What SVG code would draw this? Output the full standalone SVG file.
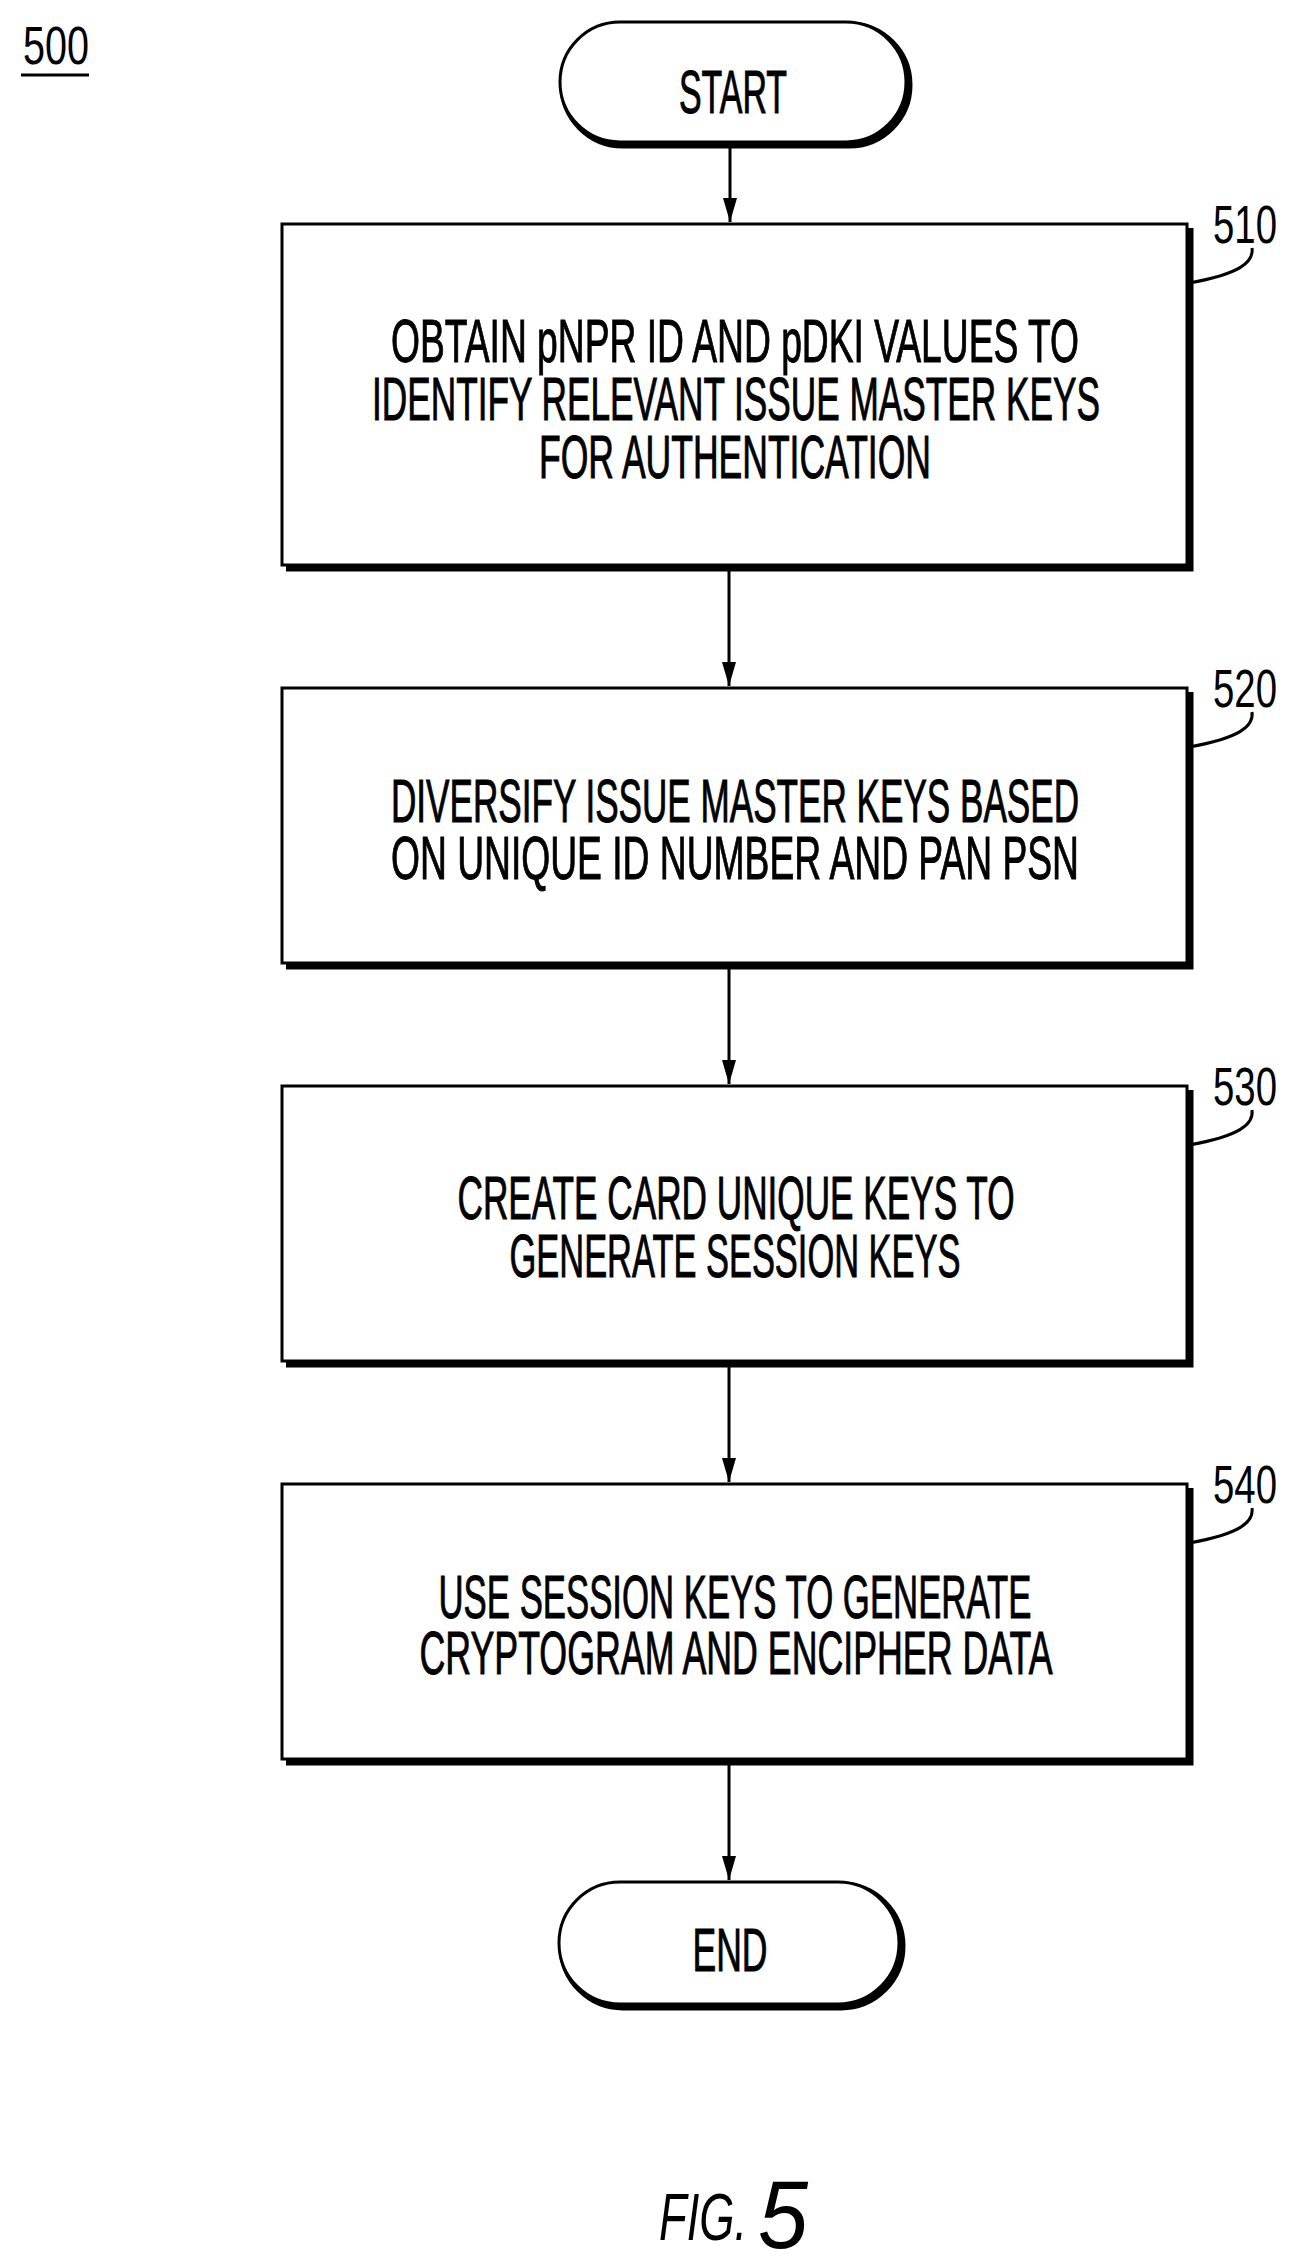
<svg xmlns="http://www.w3.org/2000/svg" width="1293" height="2262" viewBox="0 0 1293 2262">
<style>
text{font-family:"Liberation Sans",Arial,sans-serif;fill:#000}
.t{font-size:62px;text-anchor:middle;stroke:#000;stroke-width:1}
.lb{font-size:54px;text-anchor:middle}
.box{fill:#fff;stroke:#000;stroke-width:3}
.sh{fill:none;stroke:#000;stroke-width:7}
.ln{fill:none;stroke:#000;stroke-width:3}
</style>
<defs>
<marker id="a" markerWidth="24" markerHeight="14" refX="24" refY="7" orient="auto" markerUnits="userSpaceOnUse"><path d="M0,0 L24,7 L0,14 Z" fill="#000"/></marker></defs>
<g id="fig-label"><text x="56" y="64" class="lb" textLength="66" lengthAdjust="spacingAndGlyphs">500</text><line x1="21" y1="75" x2="89" y2="75" class="ln"/></g>
<g id="connectors">
<line x1="730" y1="146" x2="730" y2="222" class="ln" marker-end="url(#a)"/>
<line x1="729" y1="569" x2="729" y2="686" class="ln" marker-end="url(#a)"/>
<line x1="729" y1="967" x2="729" y2="1084" class="ln" marker-end="url(#a)"/>
<line x1="729" y1="1365" x2="729" y2="1482" class="ln" marker-end="url(#a)"/>
<line x1="729" y1="1763" x2="729" y2="1880" class="ln" marker-end="url(#a)"/>
</g>
<g id="start"><rect x="563" y="25" width="346" height="120" rx="60" class="sh" stroke-width="4"/><rect x="560" y="22" width="346" height="120" rx="60" class="box"/><text x="733" y="113" class="t" textLength="108" lengthAdjust="spacingAndGlyphs">START</text></g>
<g id="n510"><polyline points="286,568 1190,568 1190,228" class="sh"/><rect x="282" y="224" width="905" height="341" class="box"/>
<path d="M1189,283 C1240,274 1254,262 1252,248" class="ln"/><text x="1245" y="243" class="lb" textLength="64" lengthAdjust="spacingAndGlyphs">510</text>
<text x="735" y="362" class="t" textLength="688" lengthAdjust="spacingAndGlyphs">OBTAIN pNPR ID AND pDKI VALUES TO</text>
<text x="736" y="420" class="t" textLength="728" lengthAdjust="spacingAndGlyphs">IDENTIFY RELEVANT ISSUE MASTER KEYS</text>
<text x="735" y="478" class="t" textLength="392" lengthAdjust="spacingAndGlyphs">FOR AUTHENTICATION</text></g>
<g id="n520"><polyline points="286,966 1190,966 1190,692" class="sh"/><rect x="282" y="688" width="905" height="275" class="box"/>
<path d="M1189,747 C1240,738 1254,726 1252,712" class="ln"/><text x="1245" y="707" class="lb" textLength="64" lengthAdjust="spacingAndGlyphs">520</text>
<text x="735" y="822" class="t" textLength="688" lengthAdjust="spacingAndGlyphs">DIVERSIFY ISSUE MASTER KEYS BASED</text>
<text x="735" y="879" class="t" textLength="688" lengthAdjust="spacingAndGlyphs">ON UNIQUE ID NUMBER AND PAN PSN</text></g>
<g id="n530"><polyline points="286,1364 1190,1364 1190,1090" class="sh"/><rect x="282" y="1086" width="905" height="275" class="box"/>
<path d="M1189,1145 C1240,1136 1254,1124 1252,1110" class="ln"/><text x="1245" y="1105" class="lb" textLength="64" lengthAdjust="spacingAndGlyphs">530</text>
<text x="736" y="1219" class="t" textLength="557" lengthAdjust="spacingAndGlyphs">CREATE CARD UNIQUE KEYS TO</text>
<text x="735" y="1277" class="t" textLength="451" lengthAdjust="spacingAndGlyphs">GENERATE SESSION KEYS</text></g>
<g id="n540"><polyline points="286,1762 1190,1762 1190,1488" class="sh"/><rect x="282" y="1484" width="905" height="275" class="box"/>
<path d="M1189,1543 C1240,1534 1254,1522 1252,1508" class="ln"/><text x="1245" y="1503" class="lb" textLength="64" lengthAdjust="spacingAndGlyphs">540</text>
<text x="735" y="1618" class="t" textLength="593" lengthAdjust="spacingAndGlyphs">USE SESSION KEYS TO GENERATE</text>
<text x="736" y="1674" class="t" textLength="633" lengthAdjust="spacingAndGlyphs">CRYPTOGRAM AND ENCIPHER DATA</text></g>
<g id="end"><rect x="562" y="1885" width="340" height="122" rx="61" class="sh" stroke-width="4"/><rect x="559" y="1882" width="340" height="122" rx="61" class="box"/><text x="730" y="1971" class="t" textLength="75" lengthAdjust="spacingAndGlyphs">END</text></g>
<g id="caption"><text x="659" y="2240" font-size="66" font-style="italic" textLength="88" lengthAdjust="spacingAndGlyphs">FIG.</text><text x="758" y="2248" font-size="96" font-style="italic" textLength="50" lengthAdjust="spacingAndGlyphs">5</text></g>
</svg>
